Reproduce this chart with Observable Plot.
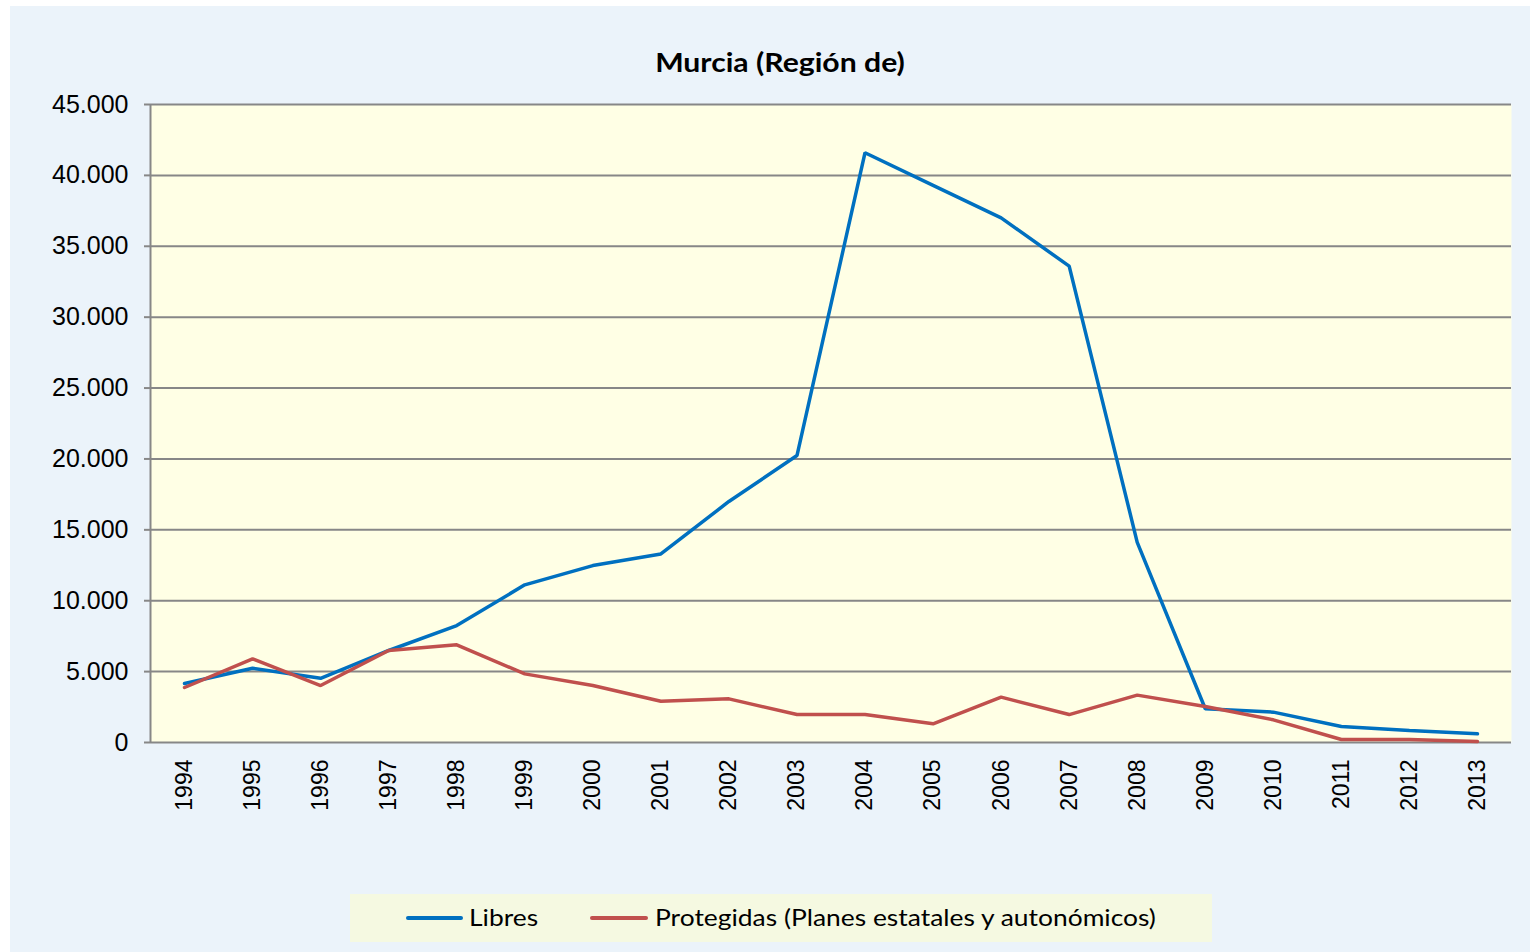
<!DOCTYPE html>
<html>
<head>
<meta charset="utf-8">
<script src="https://cdn.jsdelivr.net/npm/d3@7"></script>
<script src="https://cdn.jsdelivr.net/npm/@observablehq/plot@0.6"></script>
<style>
  html, body { margin: 0; padding: 0; background: #ffffff; }
  #page { position: relative; width: 1530px; height: 952px; overflow: hidden; }
  #panel { position: absolute; left: 10px; top: 6px; width: 1520px; height: 946px; background: #EBF3FA; }
  #title { position: absolute; left: 530px; top: 46px; width: 500px; text-align: center;
           font-family: Lato, "Open Sans", sans-serif; font-weight: 700; font-size: 26px; color: #000;
           transform: scaleX(1.16); transform-origin: 250px 50%; }
  #chart { position: absolute; left: 0; top: 0; }
  #legend { position: absolute; left: 350px; top: 894px; width: 862px; height: 48px; background: #F5F9E1;
            font-family: Lato, "Open Sans", sans-serif; font-size: 24px; color: #000; }
  .sw { position: absolute; top: 22px; height: 4px; border-radius: 2px; }
  .lt { position: absolute; top: 8px; white-space: nowrap; transform: scaleX(1.1); transform-origin: 0 50%; }
</style>
</head>
<body>
<div id="page">
  <div id="panel"></div>
  <div id="title">Murcia (Región de)</div>
  <div id="chart"></div>
  <div id="legend"></div>
</div>
<script>
const years = [1994, 1995, 1996, 1997, 1998, 1999, 2000, 2001, 2002, 2003, 2004, 2005, 2006, 2007, 2008, 2009, 2010, 2011, 2012, 2013];
const libres = [4160, 5240, 4530, 6490, 8250, 11120, 12480, 13300, 17000, 20240, 41600, 39300, 37000, 33600, 14120, 2380, 2140, 1130, 850, 610];
const protegidas = [3880, 5900, 4020, 6490, 6890, 4840, 4020, 2910, 3080, 1970, 1970, 1320, 3200, 1970, 3340, 2540, 1600, 210, 210, 70];
const seriesNames = ["Libres", "Protegidas (Planes estatales y autonómicos)"];
const seriesColors = ["#0070C0", "#C0504D"];
const yTicks = [0, 5000, 10000, 15000, 20000, 25000, 30000, 35000, 40000, 45000];

const table = [];
years.forEach((yr, i) => table.push({year: yr, value: libres[i], series: seriesNames[0]}));
years.forEach((yr, i) => table.push({year: yr, value: protegidas[i], series: seriesNames[1]}));

const fmt = d => d3.format(",")(d).replace(/,/g, ".");
const gridColor = "#878787";

const chart = Plot.plot({
  width: 1530,
  height: 830,
  marginTop: 104,
  marginBottom: 88,
  marginLeft: 150,
  marginRight: 19,
  style: { background: "transparent", fontFamily: "'Liberation Sans', Arial, sans-serif", color: "#000" },
  x: { type: "linear", domain: [years[0] - 0.5, years[years.length - 1] + 0.5] },
  y: { domain: [0, 45000] },
  color: { domain: seriesNames, range: seriesColors },
  marks: [
    Plot.frame({ fill: "#FFFFE5", stroke: null }),
    Plot.ruleY(yTicks, { stroke: gridColor, strokeWidth: 2 }),
    Plot.ruleX([years[0] - 0.5], { stroke: gridColor, strokeWidth: 2 }),
    Plot.axisY({ ticks: yTicks, tickFormat: fmt, tickSize: 6, tickPadding: 16, stroke: gridColor, strokeWidth: 2,
                 fontSize: 25, label: null, style: { letterSpacing: "1px" } }),
    Plot.axisX({ ticks: years, tickFormat: d => String(d), tickSize: 0, tickPadding: 17, tickRotate: -90,
                 fontSize: 23, label: null }),
    Plot.line(table.filter(d => d.series === seriesNames[0]), { x: "year", y: "value", stroke: "series", strokeWidth: 3.5, strokeLinejoin: "miter" }),
    Plot.line(table.filter(d => d.series === seriesNames[1]), { x: "year", y: "value", stroke: "series", strokeWidth: 3.5, strokeLinejoin: "miter" })
  ]
});
document.getElementById("chart").appendChild(chart);

const legend = document.getElementById("legend");
legend.innerHTML =
  `<span class="sw" style="left:56px;width:57px;background:${seriesColors[0]}"></span>` +
  `<span class="lt" style="left:119px">${seriesNames[0]}</span>` +
  `<span class="sw" style="left:240px;width:58px;background:${seriesColors[1]}"></span>` +
  `<span class="lt" style="left:305px">${seriesNames[1]}</span>`;
</script>
</body>
</html>
